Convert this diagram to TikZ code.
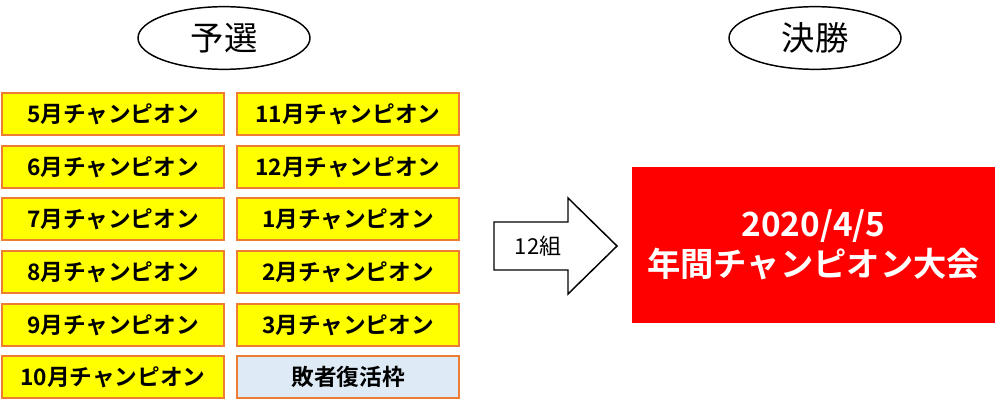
\documentclass[tikz,border=0pt]{standalone}
\usepackage{fontspec}
\setmainfont{Noto Sans CJK JP}[BoldFont={Noto Sans CJK JP Bold}]
\usepackage{tikz}
\usetikzlibrary{shapes,positioning,calc}
\definecolor{champyellow}{RGB}{255, 255, 0}
\definecolor{boxorange}{RGB}{237, 125, 49}
\definecolor{revivalblue}{RGB}{222, 235, 247}
\definecolor{finalred}{RGB}{255, 0, 0}

\tikzset{
  champbox/.style={draw=boxorange,line width=1.5pt,fill=champyellow,minimum width=166pt,minimum height=31pt,inner sep=0pt,font=\fontsize{17}{20}\selectfont\bfseries},
  stagelabel/.style={draw=black,line width=1.1pt,ellipse,minimum width=129pt,minimum height=47pt,inner sep=0pt,font=\fontsize{25}{28}\selectfont}
}

\begin{document}
\begin{tikzpicture}[x=0.75pt,y=-0.75pt]
    \useasboundingbox (0,0) rectangle (1001,406);

    % Stage headings
    \node[stagelabel] (yosen) at (224,38) {予選};
    \node[stagelabel] (kessho) at (815,38) {決勝};

    % Monthly champions, left column
    \node[champbox] (may) at (113,114) {5月チャンピオン};
    \node[champbox] (jun) at (113,167) {6月チャンピオン};
    \node[champbox] (jul) at (113,219) {7月チャンピオン};
    \node[champbox] (aug) at (113,272) {8月チャンピオン};
    \node[champbox] (sep) at (113,325) {9月チャンピオン};
    \node[champbox] (oct) at (113,377) {10月チャンピオン};

    % Monthly champions, right column
    \node[champbox] (nov) at (348,114) {11月チャンピオン};
    \node[champbox] (dec) at (348,167) {12月チャンピオン};
    \node[champbox] (jan) at (348,219) {1月チャンピオン};
    \node[champbox] (feb) at (348,272) {2月チャンピオン};
    \node[champbox] (mar) at (348,325) {3月チャンピオン};
    \node[champbox,fill=revivalblue] (revival) at (348,377) {敗者復活枠};

    % Block arrow with count
    \draw[line width=1.1pt,fill=white,line join=miter]
        (494,222) -- (568,222) -- (568,198) -- (617,246) -- (568,294) -- (568,270) -- (494,270) -- cycle;
    \node[font=\fontsize{16.5}{20}\selectfont] (groups) at (538,246) {12組};

    % Final event
    \node[fill=finalred,minimum width=272pt,minimum height=117pt,inner sep=0pt,text=white,align=center,
          font=\fontsize{25}{30}\selectfont\bfseries] (final) at (813.5,245) {2020/4/5\\年間チャンピオン大会};
\end{tikzpicture}
\end{document}
